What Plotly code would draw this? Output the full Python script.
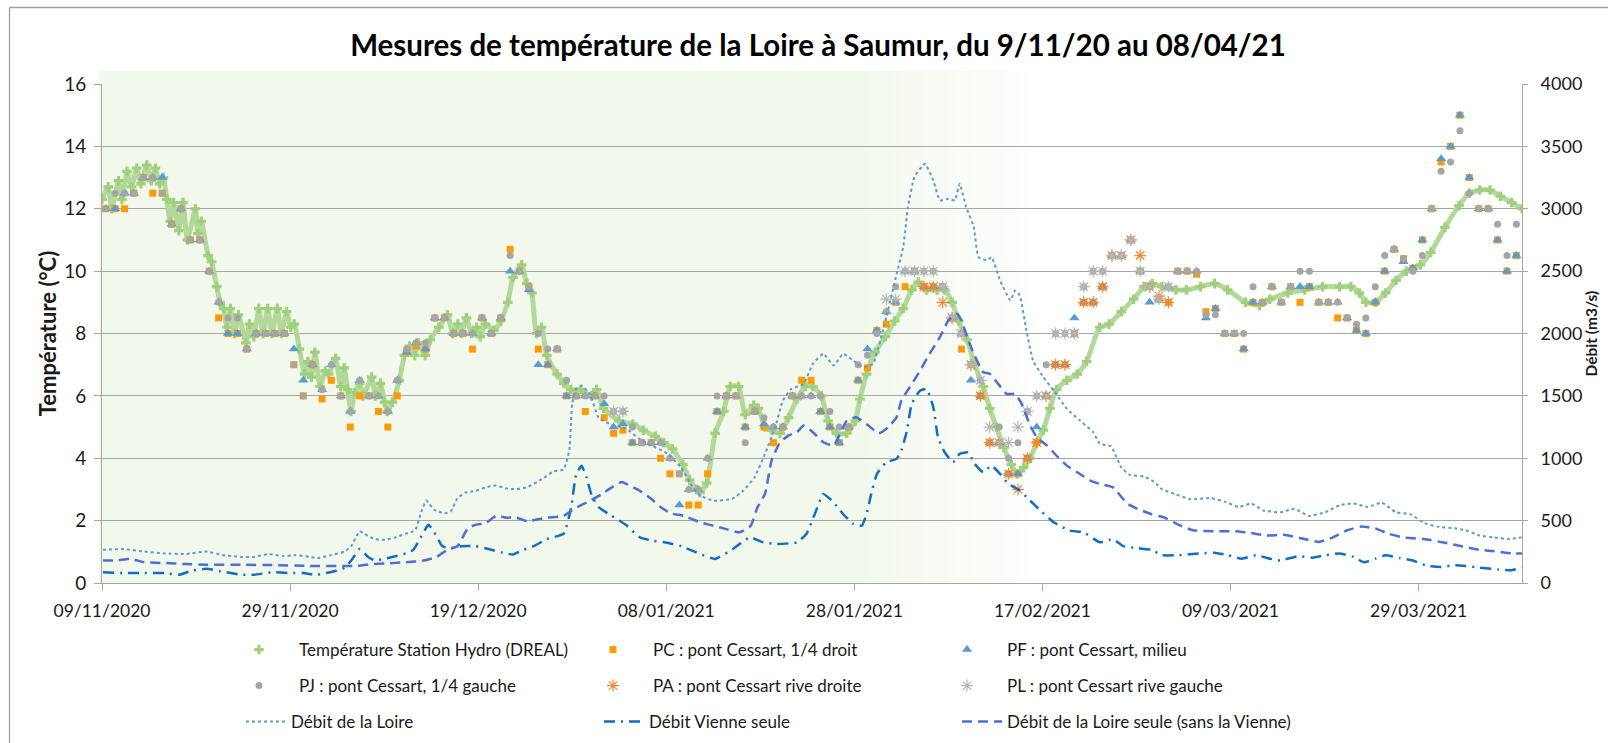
import pandas as pd
import plotly.graph_objects as go

# ---------------------------------------------------------------- data
START = "2020-11-09"          # day 0 of every "day" array below
RANGE_DAYS = 151              # axis extends to 09/04/2021

tick_days = [0, 20, 40, 60, 80, 100, 120, 140]
tick_labels = ["09/11/2020", "29/11/2020", "19/12/2020", "08/01/2021",
               "28/01/2021", "17/02/2021", "09/03/2021", "29/03/2021"]

station_day = [0.0, 0.66, 1.03, 1.76, 2.12, 2.67, 3.15, 3.70, 4.14, 4.76, 5.24, 5.68, 6.15, 6.52, 6.89, 7.25, 7.62, 8.17, 8.61, 9.08,
               9.93, 10.18, 10.55, 11.28, 11.65, 12.20, 12.56, 12.93, 13.30, 13.66, 14.10, 14.51, 15.31, 15.68, 16.15, 16.67, 17.11, 17.62, 18.06, 18.64,
               19.08, 19.63, 20.07, 20.44, 20.99, 21.54, 21.90, 22.27, 22.64, 23.19, 23.74, 24.10, 24.84, 25.38, 25.75, 26.12, 26.48, 26.85, 27.40, 27.77,
               28.68, 29.05, 29.60, 30.04, 30.33, 30.88, 31.61, 32.16, 32.71, 33.26, 33.63, 34.36, 34.91, 35.82, 36.74, 37.29, 37.84, 38.21, 38.75, 39.30,
               39.85, 40.22, 40.77, 41.68, 42.42, 43.15, 43.70, 44.62, 45.16, 45.71,
               46.19, 46.74, 47.29, 48.39, 49.12, 49.85, 50.95, 52.05, 52.60, 53.33, 54.98, 56.45, 57.55, 58.83, 59.74, 60.66, 61.76, 62.49, 63.22, 63.59,
               64.3, 65.2, 66.1, 66.8, 67.7, 68.4, 69.3, 69.8, 70.5, 71.2, 72.1, 73.0, 73.9, 74.8, 75.6, 76.5, 77.2, 78.1, 79.2, 80.1,
               80.6, 81.3, 82.2, 83.3, 84.3, 85.2, 86.1, 86.8, 87.7, 88.8, 89.6, 90.4, 91.1, 92.0, 92.8, 93.7, 94.4, 95.1, 95.9, 96.7,
               97.3, 98.0, 98.7, 99.4, 100.1, 100.8, 101.5, 102.6, 103.7, 104.7, 106.1,
               107.1, 108.4, 109.7, 110.8, 111.7, 112.7, 114.2, 115.3, 116.8, 118.3, 119.7, 121.6, 123.1, 124.2, 126.1, 127.9, 129.8, 131.6, 132.8, 133.7,
               134.4, 135.4, 136.5, 137.6, 138.7, 140.2, 141.3, 142.8, 144.3, 145.4, 146.5, 147.6, 148.7, 149.9, 151.0]
station_temp = [12.3, 12.7, 12.0, 12.9, 12.3, 13.2, 12.7, 13.3, 12.8, 13.4, 12.9, 13.3, 12.8, 13.0, 12.3, 11.6, 12.2, 11.3, 12.2, 11.0,
                12.0, 11.2, 11.6, 10.5, 10.3, 9.5, 9.0, 8.8, 8.2, 8.8, 8.0, 8.6, 7.7, 8.3, 7.9, 8.8, 8.0, 8.8, 8.0, 8.8,
                8.0, 8.7, 8.2, 8.3, 7.5, 6.7, 7.1, 6.6, 7.4, 6.3, 6.8, 6.7, 7.2, 6.3, 6.9, 6.2, 5.5, 6.1, 6.4, 6.0,
                6.6, 6.0, 6.4, 5.8, 5.5, 5.8, 6.5, 7.3, 7.6, 7.3, 7.7, 7.3, 7.8, 8.2, 8.6, 8.0, 8.3, 8.0, 8.5, 8.0,
                8.2, 7.9, 8.3, 8.1, 8.4, 9.0, 9.8, 10.2, 9.6, 9.3,
                8.0, 8.2, 7.3, 6.7, 6.4, 6.2, 6.2, 6.0, 6.2, 5.6, 5.2, 5.1, 4.9, 4.7, 4.5, 4.3, 3.8, 3.3, 3.0, 2.9,
                3.2, 4.8, 5.5, 6.3, 6.3, 5.4, 5.7, 5.6, 5.0, 4.9, 4.8, 5.3, 5.9, 6.3, 6.3, 6.0, 5.2, 4.8, 4.8, 5.2,
                5.9, 6.7, 7.4, 7.9, 8.4, 8.8, 9.4, 9.65, 9.4, 9.4, 9.4, 9.0, 8.4, 7.8, 7.0, 6.3, 5.6, 5.0, 4.35, 3.8,
                3.5, 3.7, 4.0, 4.5, 4.9, 5.6, 6.2, 6.5, 6.7, 7.1, 8.2,
                8.3, 8.7, 9.1, 9.5, 9.6, 9.5, 9.4, 9.4, 9.5, 9.6, 9.4, 9.0, 8.9, 9.1, 9.3, 9.4, 9.5, 9.5, 9.5, 9.3,
                9.0, 9.0, 9.3, 9.7, 10.0, 10.2, 10.6, 11.4, 12.1, 12.5, 12.6, 12.6, 12.4, 12.2, 12.0]

# daily manual measurements (day 0 .. 150, taken around 10 h)
meas_day = list(range(151))
pc_temp = [12, 12, 12, 12.5, 13, 12.5, 12.5, 11.5, 12, 11,
           11, 10, 8.5, 8, 8, 7.5, 8, 8, 8, 8,
           7, 6, 7, 5.9, 6.5, 6, 5, 6, 6, 5.5,
           5, 6, 7.4, 7.6, 7.5, 8.5, 8.5, 8, 8, 7.5,
           8.5, 8, 8.5, 10.7, 10, 9.5, 7.5, 7, 7.5, 6,
           6, 5.5, 6, 5.3, 4.8, 4.9, 4.5, 4.5, 4.5, 4.0,
           3.5, 3.5, 2.5, 2.5, 3.5, 5.5, 6, 6, 5, 5.5,
           5.0, 4.5, 5, 6, 6.5, 6.5, 5.5, 5, 4.5, 5,
           6.5, 6.9, 8.1, 8.3, 9.0, 9.5, 10, 9.5, 9.5, 9.5,
           8.5, 7.5, 7, 6, 4.5, 4.5, 3.5, 3.5, 4.0, 4.5,
           6.0, 7.0, 7.0, 8.0, 9.0, 9.0, 9.5, 10.5, 10.5, 11,
           10, 9.5, 9.1, 9.0, 10, 10, 9.9, 8.7, 8.8, 8,
           8, 7.5, 9, 9, 9.5, 9, 9.5, 9.0, 9.5, 9,
           9, 8.5, 8.5, 8.1, 8, 9, 10, 10.7, 10.4, 10.1,
           11, 12, 13.5, 14, 15, 13, 12, 12, 11, 10, 10.5]
pf_temp = [12, 12, 12.5, 12.5, 13, 13, 13, 11.5, 12, 11,
           11, 10, 9, 8, 8, 7.5, 8, 8, 8, 8,
           7.5, 6.5, 7, 6.2, 7, 6, 5.5, 6.5, 6, 6,
           5.5, 6.5, 7.4, 7.7, 7.5, 8.5, 8.5, 8, 8, 8,
           8.5, 8, 8.5, 10, 10, 9.4, 7, 7, 7.5, 6,
           6, 6, 6, 5.75, 5.0, 5.1, 4.5, 4.5, 4.5, 4.5,
           4.0, 2.5, 3.0, 3.0, 4.0, 5.5, 6, 6, 5, 5.5,
           5.1, 5.0, 5, 6, 6, 6, 5.5, 5, 4.5, 5,
           6.5, 7.5, 8.1, 8.7, 9.0, 10, 10, 9.5, 9.5, 9.5,
           8.5, 8, 6.5, 6, 4.5, 4.5, 3.5, 3.5, 4.0, 5.0,
           6.0, 7.0, 7.0, 8.5, 9.0, 9.0, 9.5, 10.5, 10.5, 11,
           10, 9.0, 9.1, 9.5, 10, 10, 10, 8.5, 8.8, 8,
           8, 7.5, 9, 9, 9.5, 9, 9.5, 9.5, 9.5, 9,
           9, 9, 8.5, 8.1, 8, 9, 10, 10.7, 10.3, 10.1,
           11, 12, 13.6, 14, 15, 13, 12, 12, 11, 10, 10.5]
pj_temp = [12, 12.5, 12.5, 12.5, 13, 13, 12.5, 11.5, 12, 11,
           11, 10, 9, 8.5, 8.5, 7.5, 8, 8, 8, 8,
           7, 6, 7, 6.2, 7, 6, 5.5, 6.5, 6, 6,
           5.5, 6.5, 7.5, 7.7, 7.7, 8.5, 8.5, 8, 8, 8,
           8.5, 8, 8.5, 10.5, 10, 9.5, 8, 7.5, 7.5, 6.5,
           6, 6, 6, 6, 5.5, 5.5, 5.0, 4.5, 4.5, 4.5,
           4.0, 3.5, 3.0, 3.0, 4.0, 6, 6, 6, 4.5, 5.5,
           5.3, 5.0, 5, 6, 6, 6, 6, 5.5, 5, 5,
           7, 7.3, 8.0, 8.7, 9.5, 10, 10, 10, 10, 9.5,
           8.5, 8, 7, 6.5, 4.5, 5.0, 4.0, 4.5, 5.5, 6.0,
           7.0, 8.0, 8.0, 8.0, 9.5, 10, 10, 10.5, 10.5, 11,
           10, 9.5, 9.1, 9.5, 10, 10, 10, 8.6, 8.6, 8,
           8, 8, 9.5, 9, 9.5, 9, 9.5, 10, 10, 9,
           9, 9, 8.5, 8.3, 8.5, 9.5, 10.5, 10.7, 10.4, 10.0,
           10.5, 12, 13.2, 13.5, 14.5, 12.5, 12, 12, 11.5, 10.5, 11.5]
pa_day = list(range(87, 114))
pa_temp = [9.5, 9.5, 9.0, 8.5, 8.0, 7.0, 6.0, 4.5, 4.5, 3.5, 3.0, 4.0, 4.5, 6.0,
           7.0, 7.0, 8.0, 9.0, 9.0, 9.5, 10.5, 10.5, 11.0, 10.5, 9.5, 9.2, 9.0]
pl_day = [54, 55] + list(range(83, 114))
pl_temp = [5.5, 5.5,
           9.1, 9.1, 10, 10, 10, 10, 9.5, 8.5, 8.0, 7.0, 6.5, 5.0, 4.5, 4.5, 5.0, 5.5,
           6.0, 6.0, 8.0, 8.0, 8.0, 9.5, 10, 10, 10.5, 10.5, 11, 10, 9.5, 9.1, 9.5]

# Débit de la Loire (m3/s)
loire_day = [0.1, 2.3, 4.5, 6.7, 8.9, 11.1, 12.9, 14.8, 16.2, 17.7, 19.2, 20.6, 22.1, 23.0, 24.3, 25.8, 26.5, 27.4, 27.9, 29.0,
             30.1, 31.2, 32.3, 33.3, 34.0, 34.5, 35.3, 36.4, 37.1, 37.8, 38.6, 39.7, 40.8, 41.9, 43.0, 44.1, 45.2,
             46.9, 48.0, 49.1, 49.7, 50.0, 50.4, 51.0, 51.9, 52.8, 54.2, 55.7, 57.2, 58.6, 60.1, 61.6, 62.7,
             63.6, 65.0, 67.0, 68.2, 69.4, 70.5, 71.6, 72.4, 73.3, 74.6, 75.6, 76.7, 77.8, 78.8, 79.9, 81.0, 82.0, 83.4, 84.5, 85.2,
             85.7, 86.4, 87.5, 88.4, 89.1, 90.0, 90.7, 91.2, 91.9, 92.7, 93.2, 94.1, 94.6, 95.5, 96.6, 97.1, 97.6, 98.3, 99.0, 100.1,
             101.2, 102.6, 104.0, 105.4, 106.1,
             107.3, 108.4, 109.3, 110.8, 111.9, 112.7, 114.2, 115.7, 117.9, 119.4, 120.9, 122.2, 123.5, 125.3, 126.8, 128.3, 130.1, 131.6, 133.1, 134.6,
             136.1, 137.6, 139.1, 140.6, 142.0, 143.9, 145.0, 146.5, 148.0, 149.5, 151.0]
loire_q = [266, 272, 252, 237, 232, 252, 223, 209, 209, 232, 215, 223, 209, 200, 223, 252, 295, 415, 395, 352,
           346, 366, 395, 423, 581, 661, 587, 558, 575, 681, 724, 738, 767, 781, 758, 752, 767,
           838, 895, 910, 1067, 1439, 1554, 1582, 1511, 1325, 1268, 1239, 1153, 1096, 1039, 924, 781,
           700, 660, 674, 741, 848, 1035, 1249, 1463, 1556, 1596, 1757, 1837, 1743, 1837, 1783, 1730, 1757, 2131, 2479, 2693,
           3013, 3254, 3361, 3227, 3067, 3080, 3067, 3200, 3013, 2853, 2612, 2586, 2612, 2425, 2265, 2345, 2305, 2024, 1783, 1650,
           1543, 1396, 1302, 1209, 1115,
           1096, 924, 867, 853, 810, 752, 710, 672, 681, 652, 609, 638, 581, 567, 595, 538, 567, 624, 638, 609,
           644, 567, 552, 481, 452, 438, 423, 381, 366, 352, 366]

# Débit Vienne seule (m3/s)
vienne_day = [0.1, 2.3, 4.5, 6.7, 8.2, 9.6, 11.1, 12.6, 14.8, 16.2, 18.1, 19.9, 21.4, 22.8, 24.7, 25.8, 26.5, 27.4, 28.3, 29.0,
              30.1, 31.2, 32.3, 33.1, 33.8, 34.7, 35.3, 36.2, 37.1, 38.2, 39.7, 41.1, 42.6, 43.7, 44.8, 45.9,
              47.3, 49.1, 49.9, 50.4, 51.0, 51.5, 52.1, 52.8, 54.2, 55.7, 57.2, 58.6, 60.1, 61.6, 63.0,
              63.6, 65.2, 67.1, 68.9, 70.3, 71.7, 73.9, 74.9, 75.8, 76.7, 77.8, 78.8, 79.9, 80.8, 81.3, 81.8, 82.4, 83.4, 84.5, 85.0,
              85.6, 86.1, 87.0, 87.7, 88.4, 88.9, 89.6, 90.5, 91.2, 92.1, 92.8, 93.7, 94.6, 95.5, 96.4, 97.6, 98.7, 99.8, 101.2, 102.9,
              104.4, 106.1,
              107.5, 108.6, 110.1, 111.6, 112.7, 114.5, 116.8, 118.3, 119.7, 121.2, 122.7, 124.2, 125.3, 127.2, 128.7, 130.1, 131.6, 133.1, 134.2, 135.4,
              136.5, 138.0, 139.4, 140.9, 142.4, 143.9, 145.0, 146.5, 148.4, 149.9, 151.0]
vienne_q = [86, 80, 80, 80, 66, 100, 114, 94, 66, 66, 86, 80, 80, 66, 94, 123, 180, 272, 209, 180,
            195, 215, 237, 266, 352, 466, 409, 295, 280, 295, 295, 272, 243, 229, 266, 295,
            352, 395, 609, 867, 939, 853, 695, 609, 538, 466, 366, 338, 323, 295, 252,
            233, 193, 273, 366, 326, 313, 326, 393, 553, 714, 647, 553, 473, 460, 553, 714, 874, 968, 995, 1061,
            1222, 1436, 1543, 1556, 1409, 1168, 1048, 968, 1035, 1048, 955, 888, 941, 874, 794, 741, 660, 580, 487, 420,
            406, 326,
            352, 295, 280, 266, 223, 223, 237, 243, 223, 195, 223, 195, 180, 215, 203, 223, 237, 209, 166, 195,
            223, 200, 180, 137, 129, 143, 137, 123, 109, 103, 123]

# Débit de la Loire seule (sans la Vienne) (m3/s)
seule_day = [0.1, 1.6, 3.0, 4.5, 6.7, 8.9, 11.1, 14.8, 18.4, 22.1, 25.8, 27.2, 28.7, 30.1, 32.3, 34.2, 35.6, 36.7, 37.8, 38.9,
             39.7, 40.8, 41.9, 43.0, 44.1, 45.2,
             47.3, 49.1, 50.2, 51.7, 53.1, 54.2, 55.3, 56.1, 57.2, 58.3, 59.4, 60.5, 61.9,
             63.6, 65.7, 67.8, 69.0, 69.7, 70.5, 71.2, 72.1, 73.0, 73.9, 74.6, 75.6, 76.7, 77.8, 78.3, 79.2, 80.2, 81.3, 82.6, 83.6,
             84.5, 85.0, 85.9, 87.0, 88.0, 89.1, 90.0, 90.9, 91.4, 92.0, 92.7, 93.7, 94.4, 95.3, 96.2, 97.1, 97.8, 98.7, 99.4, 100.5,
             101.5, 102.6, 104.0, 105.1, 106.1,
             107.5, 109.0, 110.1, 111.6, 113.0, 114.5, 116.0, 118.3, 120.5, 122.0, 123.8, 125.7, 127.5, 129.4, 130.9, 132.4, 133.9, 135.4, 136.8, 138.3,
             140.6, 142.8, 144.6, 146.5, 148.4, 149.9, 151.0]
seule_q = [180, 180, 195, 166, 160, 152, 146, 146, 143, 137, 137, 137, 152, 157, 166, 180, 209, 266, 295, 438,
           466, 481, 538, 524, 524, 495,
           524, 538, 595, 652, 710, 767, 810, 781, 738, 681, 609, 558, 538,
           487, 446, 406, 460, 607, 714, 981, 1128, 1182, 1209, 1262, 1209, 1128, 1102, 1168, 1302, 1329, 1275, 1200, 1249,
           1329, 1463, 1570, 1703, 1837, 1971, 2104, 2158, 2104, 1971, 1837, 1690, 1677, 1596, 1516, 1516, 1436, 1262, 1168, 1102,
           1021, 941, 874, 821, 794,
           767, 638, 595, 552, 524, 466, 423, 415, 415, 403, 381, 386, 358, 329, 366, 423, 452, 438, 395, 366,
           352, 323, 295, 266, 252, 237, 237]

# ---------------------------------------------------------------- helpers
t0 = pd.Timestamp(START)


def dates(days, offset=0.0):
    return [t0 + pd.Timedelta(days=float(d) + offset) for d in days]


FONT = "Lato"
TXT = "#1a1a1a"
GRID = "#a6a6a6"

fig = go.Figure()

# --- temperatures (left axis)
fig.add_trace(go.Scatter(x=dates(station_day), y=station_temp, mode="lines",
                         line=dict(color="#b3d99a", width=5, shape="spline", smoothing=0.5),
                         showlegend=False, hoverinfo="skip", legendgroup="st"))
fig.add_trace(go.Scatter(x=dates(station_day), y=station_temp, mode="markers",
                         name="Température Station Hydro (DREAL)", legendgroup="st",
                         marker=dict(symbol="cross", size=8, color="#9fd07c"), legend="legend"))
fig.add_trace(go.Scatter(x=dates(meas_day, 0.4), y=pc_temp, mode="markers",
                         name="PC : pont Cessart, 1/4 droit",
                         marker=dict(symbol="square", size=7, color="#ff9a00"), legend="legend"))
fig.add_trace(go.Scatter(x=dates(meas_day, 0.4), y=pf_temp, mode="markers",
                         name="PF : pont Cessart, milieu",
                         marker=dict(symbol="triangle-up", size=9, color="#5b9bd5"), legend="legend"))
fig.add_trace(go.Scatter(x=dates(meas_day, 0.4), y=pj_temp, mode="markers",
                         name="PJ : pont Cessart, 1/4 gauche",
                         marker=dict(symbol="circle", size=7, color="#a5a5a5"), legend="legend2"))
fig.add_trace(go.Scatter(x=dates(pa_day, 0.4), y=pa_temp, mode="markers",
                         name="PA : pont Cessart rive droite",
                         marker=dict(symbol="asterisk-open", size=10, color="#f5862f",
                                     line=dict(color="#f5862f", width=1.2)), legend="legend2"))
fig.add_trace(go.Scatter(x=dates(pl_day, 0.4), y=pl_temp, mode="markers",
                         name="PL : pont Cessart rive gauche",
                         marker=dict(symbol="asterisk-open", size=10, color="#b5b5b5",
                                     line=dict(color="#b5b5b5", width=1.2)), legend="legend2"))

# --- flows (right axis)
fig.add_trace(go.Scatter(x=dates(loire_day), y=loire_q, mode="lines", yaxis="y2",
                         name="Débit de la Loire",
                         line=dict(color="#5b9bd5", width=2, dash="dot", shape="spline", smoothing=0.4),
                         legend="legend3"))
fig.add_trace(go.Scatter(x=dates(vienne_day), y=vienne_q, mode="lines", yaxis="y2",
                         name="Débit Vienne seule",
                         line=dict(color="#0f6fc6", width=2.5, dash="11px,6px,2px,6px", shape="spline", smoothing=0.4),
                         legend="legend3"))
fig.add_trace(go.Scatter(x=dates(seule_day), y=seule_q, mode="lines", yaxis="y2",
                         name="Débit de la Loire seule (sans la Vienne)",
                         line=dict(color="#4a6fdb", width=2.5, dash="10px,6px", shape="spline", smoothing=0.4),
                         legend="legend3"))

# ---------------------------------------------------------------- layout
L, R, T, B = 102, 86, 84, 160
W, H = 1608, 743
PW, PH = W - L - R, H - T - B


def px_x(px):
    return (px - L) / PW


def px_y(py):
    return (H - B - py) / PH


shapes = []
# light green background block with a fade to white
g0 = (242, 248, 236)
solid_end = px_x(854)
fade_end = px_x(1045)
shapes.append(dict(type="rect", xref="paper", yref="paper", x0=px_x(99), x1=solid_end,
                   y0=0, y1=px_y(71), fillcolor="rgb(%d,%d,%d)" % g0, line=dict(width=0), layer="below"))
N = 24
for i in range(N):
    f = (i + 0.5) / N
    c = tuple(int(round(g0[k] + (255 - g0[k]) * f)) for k in range(3))
    xa = solid_end + (fade_end - solid_end) * i / N
    xb = solid_end + (fade_end - solid_end) * (i + 1) / N
    shapes.append(dict(type="rect", xref="paper", yref="paper", x0=xa, x1=xb + 0.0005,
                       y0=0, y1=px_y(71), fillcolor="rgb(%d,%d,%d)" % c, line=dict(width=0), layer="below"))
# chart frame (top and left edges visible)
shapes.append(dict(type="line", xref="paper", yref="paper", x0=px_x(9.5), x1=px_x(1620),
                   y0=px_y(7.5), y1=px_y(7.5), line=dict(color="#a0a0a0", width=1.3)))
shapes.append(dict(type="line", xref="paper", yref="paper", x0=px_x(9.5), x1=px_x(9.5),
                   y0=px_y(7.5), y1=px_y(760), line=dict(color="#a0a0a0", width=1.3)))

legend_common = dict(orientation="h", xref="container", yref="container", xanchor="left", yanchor="middle",
                     entrywidthmode="pixels", bgcolor="rgba(0,0,0,0)",
                     font=dict(family=FONT, size=17, color=TXT))

fig.update_layout(
    width=W, height=H,
    margin=dict(l=L, r=R, t=T, b=B),
    paper_bgcolor="white", plot_bgcolor="white",
    font=dict(family=FONT, color=TXT),
    title=dict(text="<b>Mesures de température de la Loire à Saumur, du 9/11/20 au 08/04/21</b>",
               x=818 / W, xanchor="center", xref="container",
               y=1 - 46 / H, yanchor="middle", yref="container",
               font=dict(family=FONT, size=29.5, color="#000000")),
    xaxis=dict(type="date",
               range=[t0, t0 + pd.Timedelta(days=RANGE_DAYS)],
               tickvals=dates(tick_days), ticktext=tick_labels,
               showgrid=False, zeroline=False,
               showline=True, linecolor=GRID, linewidth=1,
               ticks="outside", ticklen=7, tickcolor=GRID, ticklabelstandoff=5,
               tickfont=dict(family=FONT, size=17.5, color=TXT)),
    yaxis=dict(range=[0, 16], dtick=2, tick0=0,
               showgrid=True, gridcolor=GRID, gridwidth=1, zeroline=False,
               showline=True, linecolor=GRID, linewidth=1,
               ticks="outside", ticklen=7, tickcolor=GRID, ticklabelstandoff=4,
               tickfont=dict(family=FONT, size=19, color=TXT),
               title=dict(text="<b>Température (°C)</b>", standoff=1,
                          font=dict(family=FONT, size=22, color=TXT))),
    yaxis2=dict(range=[0, 4000], dtick=500, tick0=0, overlaying="y", side="right",
                showgrid=False, zeroline=False,
                showline=True, linecolor=GRID, linewidth=1,
                ticks="outside", ticklen=5, tickcolor=GRID, ticklabelstandoff=9,
                tickfont=dict(family=FONT, size=18, color=TXT)),
    annotations=[dict(text="<b>Débit (m3/s)</b>", textangle=-90, showarrow=False,
                      xref="paper", yref="paper", x=px_x(1590), y=0.5,
                      xanchor="center", yanchor="middle",
                      font=dict(family=FONT, size=15.5, color=TXT))],
    legend=dict(legend_common, x=219 / W, y=1 - 650 / H, itemwidth=70, entrywidth=269),
    legend2=dict(legend_common, x=219 / W, y=1 - 686 / H, itemwidth=70, entrywidth=269),
    legend3=dict(legend_common, x=241 / W, y=1 - 722 / H, itemwidth=40, entrywidth=303),
    shapes=shapes,
    hovermode=False,
)

# page body without the browser's default 8px margin so the 1608x743 figure fills the window
fig.write_html("out.html",
               config={"displayModeBar": False},
               post_script="document.body.style.margin='0';document.body.style.overflow='hidden';")
